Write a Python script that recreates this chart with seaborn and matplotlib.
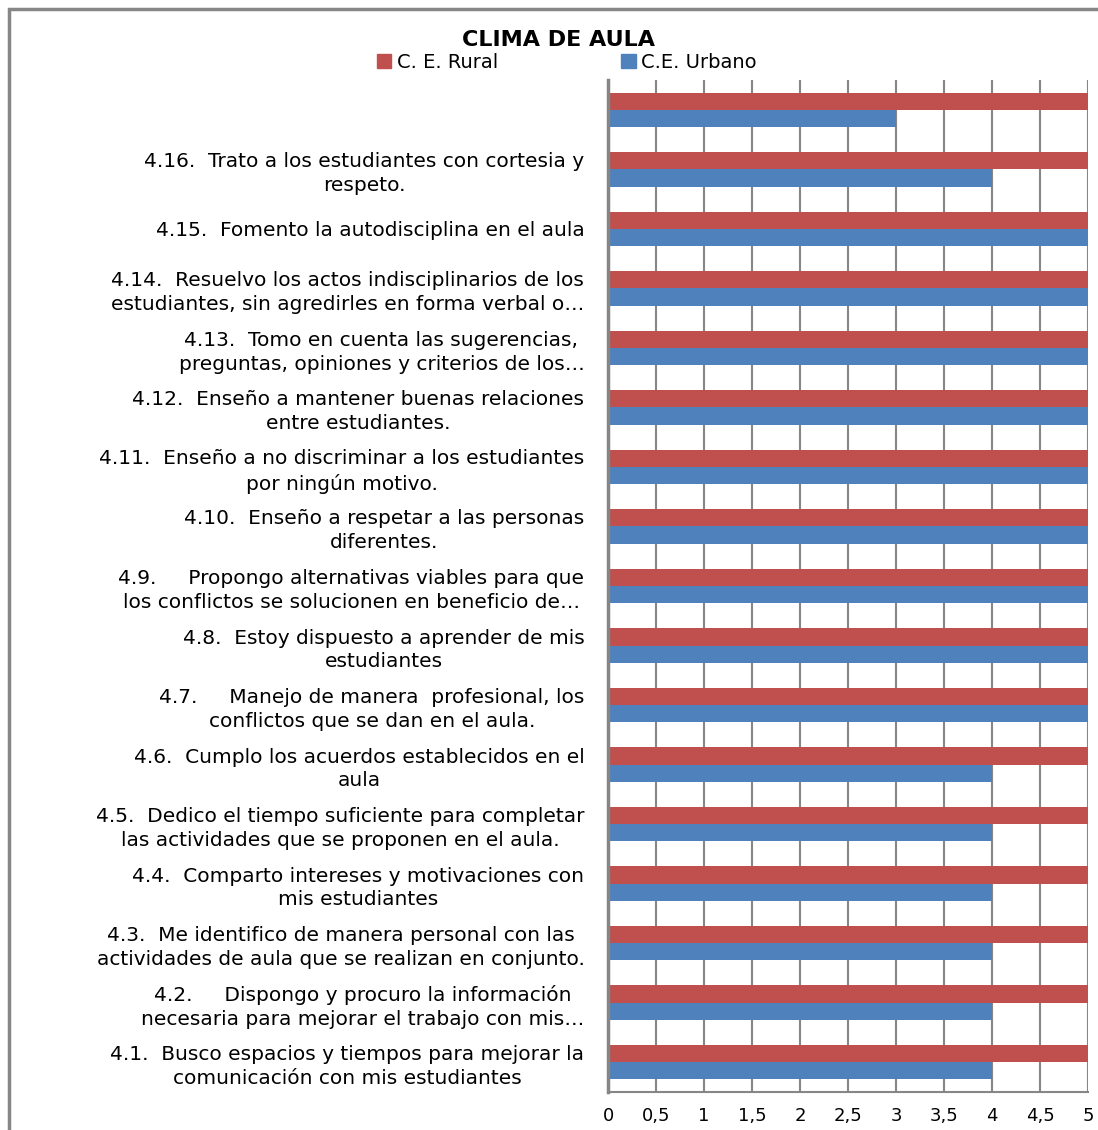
import matplotlib
matplotlib.use("Agg")
import matplotlib.pyplot as plt
import matplotlib.patches as mpatches
import pandas as pd
import seaborn as sns

# items from top to bottom, as in the chart
items = [
    "",
    "4.16.  Trato a los estudiantes con cortesia y\nrespeto.",
    "4.15.  Fomento la autodisciplina en el aula",
    "4.14.  Resuelvo los actos indisciplinarios de los\nestudiantes, sin agredirles en forma verbal o…",
    "4.13.  Tomo en cuenta las sugerencias,\npreguntas, opiniones y criterios de los…",
    "4.12.  Enseño a mantener buenas relaciones\nentre estudiantes.",
    "4.11.  Enseño a no discriminar a los estudiantes\npor ningún motivo.",
    "4.10.  Enseño a respetar a las personas\ndiferentes.",
    "4.9.     Propongo alternativas viables para que\nlos conflictos se solucionen en beneficio de…",
    "4.8.  Estoy dispuesto a aprender de mis\nestudiantes",
    "4.7.     Manejo de manera  profesional, los\nconflictos que se dan en el aula.",
    "4.6.  Cumplo los acuerdos establecidos en el\naula",
    "4.5.  Dedico el tiempo suficiente para completar\nlas actividades que se proponen en el aula.",
    "4.4.  Comparto intereses y motivaciones con\nmis estudiantes",
    "4.3.  Me identifico de manera personal con las\nactividades de aula que se realizan en conjunto.",
    "4.2.     Dispongo y procuro la información\nnecesaria para mejorar el trabajo con mis…",
    "4.1.  Busco espacios y tiempos para mejorar la\ncomunicación con mis estudiantes",
]
rural = [5, 5, 5, 5, 5, 5, 5, 5, 5, 5, 5, 5, 5, 5, 5, 5, 5]
urbano = [3, 4, 5, 5, 5, 5, 5, 5, 5, 5, 5, 4, 4, 4, 4, 4, 4]
series = ["C. E. Rural", "C.E. Urbano"]
xticks = [0, 0.5, 1, 1.5, 2, 2.5, 3, 3.5, 4, 4.5, 5]
xticklabels = ["0", "0,5", "1", "1,5", "2", "2,5", "3", "3,5", "4", "4,5", "5"]

sns.set_style("white")
plt.rcParams["font.family"] = ["DejaVu Sans"]
plt.rcParams["text.color"] = "black"
plt.rcParams["xtick.color"] = "black"
plt.rcParams["ytick.color"] = "black"

df = pd.DataFrame({
    "item": items * 2,
    "valor": rural + urbano,
    "centro": [series[0]] * len(items) + [series[1]] * len(items),
})
df["pos"] = list(range(len(items))) * 2

fig = plt.figure(figsize=(10.98, 11.30), dpi=100)
ax = fig.add_axes([608 / 1098, 1 - 1092 / 1130, 480 / 1098, (1092 - 80) / 1130])

sns.barplot(data=df, y="pos", x="valor", hue="centro", orient="h",
            palette=["#C0504D", "#4F81BD"], saturation=1, width=0.58,
            linewidth=0, ax=ax, legend=False)

ax.set_xlim(0, 5)
ax.set_ylim(len(items) - 0.5, -0.5)
ax.set_xticks(xticks)
ax.set_xticklabels(xticklabels, fontsize=13)
ax.set_yticks(range(len(items)))
ax.set_yticklabels(items, fontsize=14.5, multialignment="center", linespacing=1.32)
ax.tick_params(axis="both", length=0)
ax.tick_params(axis="y", pad=17)
ax.tick_params(axis="x", pad=11)
ax.set_xlabel("")
ax.set_ylabel("")
ax.xaxis.grid(True, color="#868686", linewidth=1.5)
ax.set_axisbelow(True)
for s in ["top", "right"]:
    ax.spines[s].set_visible(False)
ax.spines["left"].set_color("#868686")
ax.spines["left"].set_linewidth(2.5)
ax.spines["bottom"].set_color("#868686")
ax.spines["bottom"].set_linewidth(1.5)

fig.text(558 / 1098, 1 - 40 / 1130, "CLIMA DE AULA", ha="center", va="center",
         fontsize=16, fontweight="bold")
handles = [mpatches.Patch(color="#C0504D", label=series[0]),
           mpatches.Patch(color="#4F81BD", label=series[1])]
fig.legend(handles=handles, loc="center", bbox_to_anchor=(567 / 1098, 1 - 62 / 1130),
           ncol=2, frameon=False, fontsize=14, handlelength=0.75, handleheight=0.75,
           handletextpad=0.3, columnspacing=6.3, borderpad=0)

# outer chart frame
fig.patches.append(mpatches.Rectangle((9 / 1098, -0.05), 1.1, 1.05 - 9 / 1130,
                                      transform=fig.transFigure, fill=False,
                                      edgecolor="#868686", linewidth=2.5))

fig.savefig("out.png", dpi=100)
